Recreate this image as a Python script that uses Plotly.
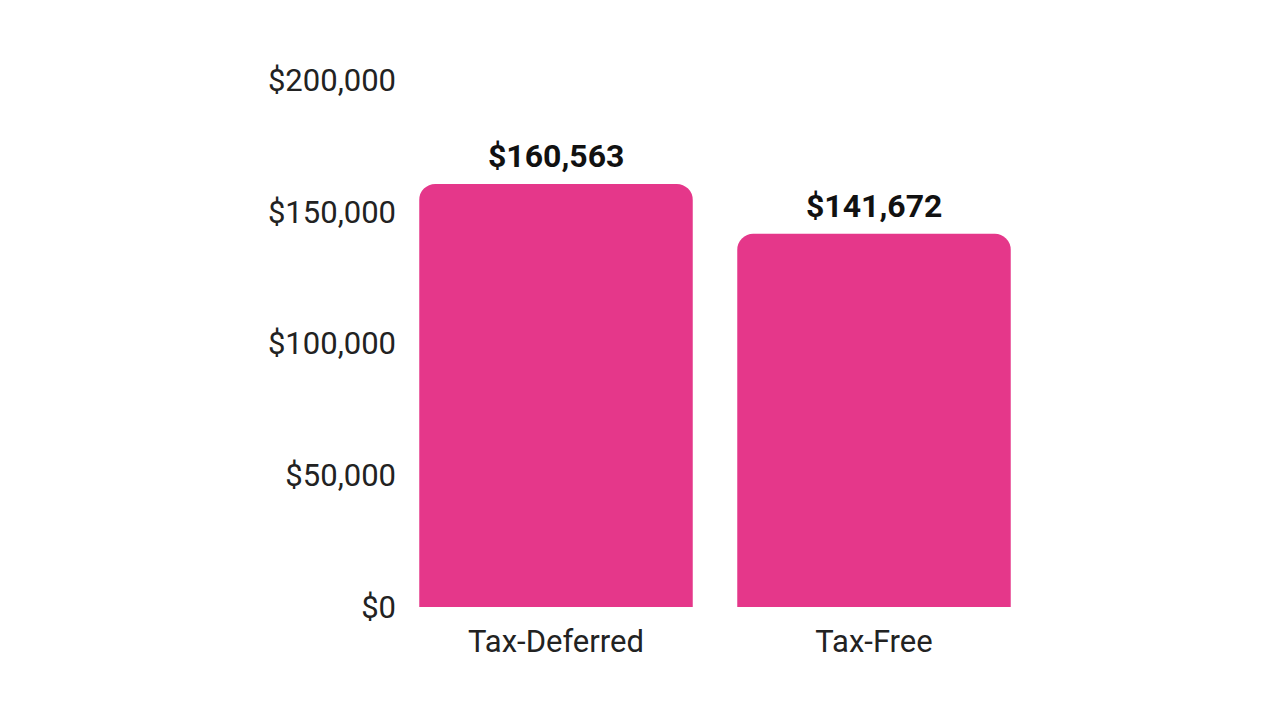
import plotly.graph_objects as go

categories = ["Tax-Deferred", "Tax-Free"]
values = [160563, 141672]
value_labels = ["$160,563", "$141,672"]
tick_vals = [0, 50000, 100000, 150000, 200000]
tick_text = ["$0", "$50,000", "$100,000", "$150,000", "$200,000"]

BAR_COLOR = "#E5378A"
FONT = "Roboto"

fig = go.Figure()
fig.add_trace(go.Bar(
    x=categories,
    y=values,
    marker=dict(color=BAR_COLOR, cornerradius=16, line=dict(width=0)),
    hoverinfo="skip",
))

for c, v, t in zip(categories, values, value_labels):
    fig.add_annotation(
        x=c, y=v, text="<b>" + t + "</b>", showarrow=False,
        yanchor="bottom", yshift=7,
        font=dict(family=FONT, size=32, color="#111111"),
    )

fig.update_layout(
    width=1279, height=720,
    margin=dict(l=397, r=246, t=80, b=113),
    paper_bgcolor="white", plot_bgcolor="white",
    bargap=0.14,
    showlegend=False,
    font=dict(family=FONT, size=31, color="#222222"),
)
fig.update_xaxes(
    showgrid=False, showline=False, zeroline=False,
    ticks="outside", ticklen=7, tickcolor="rgba(0,0,0,0)",
    tickfont=dict(family=FONT, size=31, color="#222222"),
)
fig.update_yaxes(
    range=[0, 200000], showgrid=False, showline=False, zeroline=False,
    tickvals=tick_vals, ticktext=tick_text,
    ticks="", tickfont=dict(family=FONT, size=31, color="#222222"),
)

fig.write_html("out.html")
